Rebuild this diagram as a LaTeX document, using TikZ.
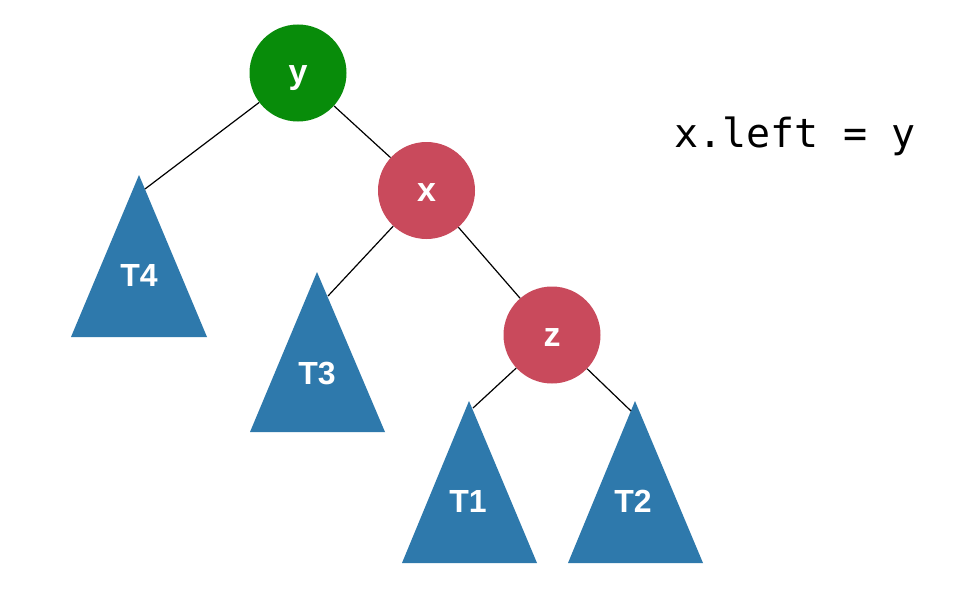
\documentclass[tikz,border=0pt]{standalone}
\usepackage{fontspec}
\setmainfont{Liberation Sans}
\newfontfamily\codefont{DejaVu Sans Mono}
\definecolor{treegreen}{HTML}{088C0A}
\definecolor{treered}{HTML}{C94A5C}
\definecolor{treeblue}{HTML}{2E79AC}
\begin{document}
\begin{tikzpicture}[x=1pt,y=-1pt,
  keynode/.style={circle, minimum size=97pt, inner sep=0pt, text=white,
    font=\bfseries\fontsize{34}{34}\selectfont, text height=22pt, text depth=0pt},
  rednode/.style={keynode, fill=treered},
  greennode/.style={keynode, fill=treegreen},
  subtree/.style={fill=treeblue},
  treelabel/.style={inner sep=0pt, text=white,
    font=\bfseries\fontsize{32}{32}\selectfont, text height=23pt, text depth=0pt},
  edge/.style={draw=black, line width=1.2pt}]
\useasboundingbox (0,0) rectangle (966,594);
\fill[white] (0,0) rectangle (966,594);

% subtrees
\fill[subtree] (139,175) -- (207,337) -- (71,337) -- cycle;
\fill[subtree] (317,272) -- (385,432) -- (250,432) -- cycle;
\fill[subtree] (469,401) -- (537,563) -- (402,563) -- cycle;
\fill[subtree] (635,401) -- (703,563) -- (568,563) -- cycle;
\node[treelabel] (T4) at (139,275) {T4};
\node[treelabel] (T3) at (317,373) {T3};
\node[treelabel] (T1) at (468,501) {T1};
\node[treelabel] (T2) at (633,501) {T2};

% connector ends on subtrees
\coordinate (t4in) at (145,189);
\coordinate (t3in) at (328,296);
\coordinate (t1in) at (473,408);
\coordinate (t2in) at (631,411);

% keys
\node[greennode] (y) at (298,73) {y};
\node[rednode] (x) at (426.5,190.5) {x};
\node[rednode] (z) at (552,335) {z};

\draw[edge] (y) -- (t4in);
\draw[edge] (y) -- (x);
\draw[edge] (x) -- (t3in);
\draw[edge] (x) -- (z);
\draw[edge] (z) -- (t1in);
\draw[edge] (z) -- (t2in);

\node[anchor=base, inner sep=0pt, font=\codefont\fontsize{40}{40}\selectfont] (code) at (795,147) {x.left = y};
\end{tikzpicture}
\end{document}
